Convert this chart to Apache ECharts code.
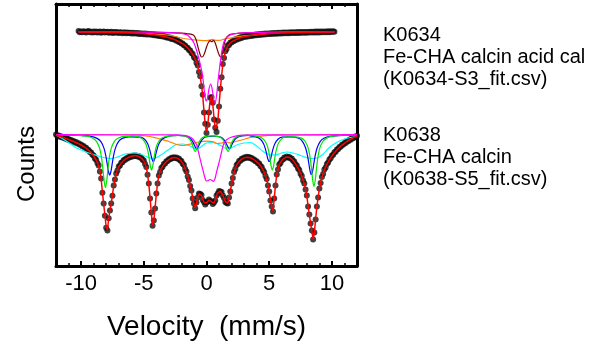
<!DOCTYPE html>
<html>
<head>
<meta charset="utf-8">
<script src="https://cdn.jsdelivr.net/npm/echarts@6.0.0/dist/echarts.min.js"></script>
<style>
  html, body { margin: 0; padding: 0; background: #fff; }
  #chart { width: 596px; height: 350px; }
</style>
</head>
<body>
<div id="chart"></div>
<script>
// ---------------- DATA ----------------
// Channel velocities: first channel + constant step (mm/s)
const velStep = 0.1;
const upperVelStart = -10.2;   // K0634 spectrum channels
const lowerVelStart = -12.0;   // K0638 spectrum channels

const xMajorTicks = [-10, -5, 0, 5, 10];
const xMinorTicks = [-11, -9, -8, -7, -6, -4, -3, -2, -1, 1, 2, 3, 4, 6, 7, 8, 9, 11];

const xTitle = 'Velocity  (mm/s)';
const yTitle = 'Counts';
const upperLegend = ['K0634', 'Fe-CHA calcin acid cal', '(K0634-S3_fit.csv)'];
const lowerLegend = ['K0638', 'Fe-CHA calcin', '(K0638-S5_fit.csv)'];

// K0634 measured counts (offset, arbitrary units)
const upperData = [
  234.9,233.8,
  234.6,233.7,234.8,234.3,233.6,234.5,234.9,233.8,234.2,233.5,
  234.4,233.7,234.6,233.4,234.1,234.5,233.3,234.0,234.4,233.5,
  233.9,234.3,233.2,233.8,234.2,233.1,233.9,233.3,234.0,233.6,
  232.9,233.8,233.5,232.8,233.6,233.4,232.7,233.5,232.9,233.3,
  232.6,233.3,232.5,233.1,232.4,233.0,232.1,232.8,232.0,232.6,
  231.7,232.5,231.6,232.3,231.4,231.9,231.2,231.8,230.8,231.4,
  230.4,231.1,230.0,230.6,229.7,230.2,229.2,229.7,228.6,229.0,
  227.9,228.5,227.1,227.6,226.4,226.9,225.3,225.6,224.1,224.0,
  222.5,222.6,220.8,220.6,218.6,218.2,216.1,215.6,212.9,211.9,
  208.7,207.5,203.2,200.6,194.0,189.8,179.8,171.2,153.5,142.2,
  133.0,141.2,153.6,168.2,169.1,163.3,146.5,138.2,134.1,145.3,
  159.6,177.3,188.8,202.0,208.1,214.8,216.9,220.7,221.1,223.6,
  223.5,225.3,225.1,226.7,226.3,227.8,227.3,228.7,228.1,229.4,
  228.9,229.9,229.3,230.4,229.7,230.7,230.1,231.1,230.5,231.4,
  230.8,231.7,231.0,232.0,231.3,232.2,231.5,232.4,231.8,232.6,
  231.9,232.8,232.1,232.9,232.2,233.1,232.3,233.2,232.5,233.3,
  232.6,233.4,232.7,233.5,232.8,233.6,232.8,233.7,232.9,233.7,
  233.0,233.8,233.0,233.9,233.1,233.9,233.2,234.0,233.2,234.1,
  233.3,234.1,233.4,234.2,233.4,234.3,233.5,234.4,233.6,234.4,
  233.6,234.5,233.7,234.6,233.7,234.6,233.8,234.7,233.8,234.8,
  233.9,234.8,234.2
];

// K0634 total fit
const upperFit = [
  234.2,234.2,
  234.2,234.2,234.1,234.1,234.1,234.1,234.0,234.0,234.0,234.0,
  234.0,234.0,233.9,233.9,233.9,233.9,233.8,233.8,233.8,233.8,
  233.7,233.7,233.7,233.6,233.6,233.6,233.5,233.5,233.5,233.4,
  233.4,233.4,233.3,233.3,233.3,233.2,233.2,233.1,233.1,233.0,
  233.0,232.9,232.9,232.8,232.8,232.7,232.6,232.5,232.4,232.3,
  232.2,232.1,232.0,231.9,231.8,231.6,231.5,231.3,231.2,231.0,
  230.8,230.6,230.4,230.2,230.0,229.8,229.5,229.2,228.9,228.6,
  228.3,227.9,227.5,227.1,226.6,226.1,225.6,225.0,224.4,223.7,
  223.0,222.2,221.3,220.3,219.2,218.0,216.8,215.3,213.6,211.7,
  209.5,207.0,204.0,200.0,195.0,189.0,181.0,170.0,155.0,141.0,
  134.0,140.0,155.0,167.0,170.0,162.0,148.0,137.0,135.0,144.0,
  161.0,176.0,190.0,201.0,209.0,214.0,217.5,220.0,221.7,223.0,
  224.0,224.8,225.6,226.2,226.8,227.3,227.8,228.2,228.6,229.0,
  229.3,229.5,229.7,229.9,230.1,230.3,230.5,230.7,230.9,231.0,
  231.2,231.3,231.4,231.6,231.7,231.8,231.9,232.0,232.1,232.2,
  232.3,232.4,232.5,232.5,232.6,232.7,232.7,232.8,232.9,232.9,
  233.0,233.0,233.1,233.1,233.2,233.2,233.2,233.3,233.3,233.3,
  233.4,233.4,233.4,233.5,233.5,233.5,233.6,233.6,233.6,233.7,
  233.7,233.7,233.8,233.8,233.8,233.9,233.9,233.9,234.0,234.0,
  234.0,234.0,234.1,234.1,234.1,234.1,234.1,234.2,234.2,234.2,
  234.2,234.2,234.2
];

// K0634 sub-spectra [velocity, counts]
const upperOrange = [[-10.2,234.2],[-8,234],[-6,233.5],[-5,232.8],[-4,231.8],[-3.2,231],[-2.5,229.5],[-2,228],[-1.5,227],[-1,226.2],[-0.5,225.6],[0,225.3],[0.25,225.8],[0.45,226.7],[0.65,225.8],[1,225.6],[1.5,227.2],[2,228.2],[2.5,229.3],[3,230.2],[4,231.2],[5,233],[6,233.6],[8,234],[10.2,234.2]];
const upperMaroon = [[-10.2,234.2],[-5,233.8],[-3,233.4],[-2,232.8],[-1.5,232.2],[-1.05,231],[-0.85,227],[-0.7,220],[-0.55,213],[-0.4,209],[-0.28,209.5],[-0.15,213],[0,219],[0.15,223.5],[0.3,225.3],[0.42,224.3],[0.54,225.6],[0.68,223.5],[0.82,218],[0.95,213],[1.05,210],[1.15,209],[1.28,213],[1.4,221],[1.55,227.5],[1.75,230.5],[2,231.8],[2.5,232.6],[3,233.1],[5,233.7],[10.2,234.2]];
const upperMagenta = [[-10.2,234.2],[-6,234],[-4,233.8],[-3,233.4],[-2.2,232.8],[-1.8,232],[-1.5,230.8],[-1.2,227],[-1.0,223],[-0.8,216],[-0.6,207],[-0.45,199],[-0.33,192],[-0.2,178],[-0.1,168],[-0.02,165],[0.08,168],[0.2,177],[0.33,182],[0.45,177],[0.57,167],[0.68,163],[0.8,170],[0.92,185],[1.05,199],[1.2,213],[1.35,222.5],[1.5,227],[1.75,230],[2.1,231.8],[2.6,232.8],[3.5,233.5],[5,233.9],[10.2,234.2]];

// K0638 measured counts (offset, arbitrary units)
const lowerData = [
  131.6,130.2,130.5,129.3,129.8,128.6,128.9,127.6,128.1,126.6,
  126.9,125.6,125.9,124.6,124.9,123.6,123.9,122.6,122.7,121.2,
  121.4,119.8,119.9,118.2,118.2,116.3,116.1,114.0,113.6,111.2,
  110.4,107.5,106.3,103.0,100.4,94.5,87.6,73.2,62.5,50.3,
  38.2,35.6,47.7,55.4,62.6,70.2,80.6,86.4,92.5,95.5,
  99.4,100.6,103.2,103.8,105.9,106.1,107.7,107.6,109.1,108.8,
  110.1,109.6,110.6,109.9,110.6,109.6,109.9,108.4,108.4,106.3,
  105.4,102.0,98.9,91.3,82.6,67.4,53.6,40.3,45.5,57.4,
  72.6,82.4,90.4,94.0,97.9,99.3,101.9,102.6,104.7,105.1,
  106.8,106.8,108.2,107.8,108.8,108.0,108.6,107.3,107.4,105.6,
  104.9,102.3,100.9,97.0,94.4,89.5,85.9,80.0,75.4,67.4,
  62.4,57.8,63.4,68.5,72.4,72.0,70.9,66.0,63.9,61.5,
  63.4,64.5,66.4,65.0,64.4,62.0,63.4,65.5,70.4,72.5,
  75.1,74.5,74.1,70.5,67.9,64.0,62.9,62.5,68.4,74.5,
  82.4,88.0,93.9,97.0,100.9,102.2,104.9,105.3,107.2,107.1,
  108.6,108.1,109.2,108.3,109.0,107.7,108.1,106.5,106.6,104.8,
  104.7,102.7,102.4,100.0,99.1,96.0,94.1,90.0,86.9,80.4,
  74.4,65.4,59.4,54.4,67.4,80.4,91.4,96.5,101.4,103.0,
  105.9,106.5,108.4,108.2,109.4,108.5,109.1,107.5,107.4,105.2,
  104.4,101.7,100.6,97.5,95.9,92.2,89.9,85.5,82.4,76.5,
  70.4,59.4,51.4,42.4,35.4,26.5,33.4,46.5,59.4,68.5,
  77.4,83.0,88.9,92.0,96.4,98.5,102.1,103.5,106.6,107.7,
  110.4,111.2,113.7,114.3,116.6,117.0,119.1,119.3,121.2,121.3,
  123.1,123.1,124.9,124.8,126.4,126.3,127.9,127.7,129.2,128.9,
  130.3
];

// K0638 total fit
const lowerFit = [
  131,130.5,130,129.7,129.3,129,128.5,128,127.5,127,
  126.5,126,125.5,125,124.5,124,123.5,123,122.3,121.7,
  121,120.3,119.5,118.7,117.8,116.8,115.7,114.5,113.2,111.7,
  110,108,106,103.5,100,95.5,87,74,62,51,
  39,36,47,56,62,71,80,87,92,96,
  99,101,102.8,104.2,105.5,106.5,107.3,108,108.7,109.2,
  109.7,110,110.2,110.3,110.2,110,109.5,108.8,108,106.8,
  105,102.5,98.5,92,82,68,53,41,45,58,
  72,83,90,94.5,97.5,99.7,101.5,103,104.3,105.5,
  106.4,107.2,107.8,108.2,108.4,108.4,108.2,107.7,107,106,
  104.5,102.7,100.5,97.5,94,90,85.5,80.5,75,68,
  62,58.5,63,69,72,72.5,70.5,66.5,63.5,62,
  63,65,66,65.5,64,62.5,63,66,70,73,
  74.7,75,73.7,71,67.5,64.5,62.5,63,68,75,
  82,88.5,93.5,97.5,100.5,102.7,104.5,105.8,106.8,107.6,
  108.2,108.6,108.8,108.8,108.6,108.2,107.7,107,106.2,105.3,
  104.3,103.2,102,100.5,98.7,96.5,93.7,90.5,86.5,81,
  74,66,59,55,67,81,91,97,101,103.5,
  105.5,107,108,108.7,109,109,108.7,108,107,105.7,
  104,102.2,100.2,98,95.5,92.7,89.5,86,82,77,
  70,60,51,43,35,27,33,47,59,69,
  77,83.5,88.5,92.5,96,99,101.7,104,106.2,108.2,
  110,111.7,113.3,114.8,116.2,117.5,118.7,119.8,120.8,121.8,
  122.7,123.6,124.5,125.3,126,126.8,127.5,128.2,128.8,129.4,
  130
];

// K0638 sub-spectra [velocity, counts]
const lowerGreen = [[-12,131.3],[-11,131],[-10.2,130.5],[-9.56,129.8],[-9.06,127.8],[-8.76,124.4],[-8.51,117.1],[-8.36,107.3],[-8.26,96.8],[-8.16,84.7],[-8.06,78.5],[-7.96,84.7],[-7.86,96.8],[-7.76,107.3],[-7.61,117.1],[-7.36,124.4],[-7.06,127.8],[-6.56,129.6],[-6.2,129.6],[-5.88,130],[-5.38,129],[-5.08,126.7],[-4.83,121.8],[-4.68,115.3],[-4.58,108.3],[-4.48,100.2],[-4.38,96],[-4.28,100.2],[-4.18,108.3],[-4.08,115.3],[-3.93,121.8],[-3.68,126.7],[-3.38,129],[-2.88,130.2],[-2.2,130.6],[-1.9,130.3],[-1.6,129.2],[-1.35,126.9],[-1.2,123.7],[-1.1,120.4],[-1.0,116.5],[-0.9,114.5],[-0.8,116.5],[-0.7,120.4],[-0.6,123.7],[-0.45,126.9],[-0.2,129.2],[0.41,130],[1.02,129.2],[1.27,126.9],[1.42,123.7],[1.52,120.4],[1.62,116.5],[1.72,114.5],[1.82,116.5],[1.92,120.4],[2.02,123.7],[2.17,126.9],[2.42,129.2],[2.72,130.3],[3.22,130.8],[3.75,130.2],[4.25,129],[4.55,126.7],[4.8,121.8],[4.95,115.3],[5.05,108.3],[5.15,100.2],[5.25,96],[5.35,100.2],[5.45,108.3],[5.55,115.3],[5.7,121.8],[5.95,126.7],[6.25,129],[6.9,129.2],[7.57,127.9],[7.87,124.5],[8.12,117.4],[8.27,107.7],[8.37,97.5],[8.47,85.6],[8.57,79.5],[8.67,85.6],[8.77,97.5],[8.87,107.7],[9.02,117.4],[9.27,124.5],[9.57,127.9],[10.07,129.8],[11,130.8],[12,131.2]];
const lowerBlue = [[-12,131.3],[-11,131],[-10,130.5],[-9.22,129.7],[-8.72,127.6],[-8.42,124.3],[-8.17,117.6],[-8.02,109.6],[-7.92,102.1],[-7.82,94.5],[-7.72,91],[-7.62,94.5],[-7.52,102.1],[-7.42,109.6],[-7.27,117.6],[-7.02,124.3],[-6.72,127.6],[-6.22,129.2],[-5.98,129.2],[-5.24,128.9],[-4.94,126.7],[-4.69,122.2],[-4.54,116.9],[-4.44,111.9],[-4.34,106.8],[-4.24,104.5],[-4.14,106.8],[-4.04,111.9],[-3.94,116.9],[-3.79,122.2],[-3.54,126.7],[-3.24,128.9],[-2.74,130.3],[-2.28,130.6],[-1.78,130.2],[-1.48,129],[-1.23,126.7],[-1.08,123.9],[-0.98,121.3],[-0.88,118.7],[-0.78,117.5],[-0.68,118.7],[-0.58,121.3],[-0.48,123.9],[-0.33,126.7],[-0.08,129],[0.52,129.8],[1.12,129],[1.37,126.7],[1.52,123.9],[1.62,121.3],[1.72,118.7],[1.82,117.5],[1.92,118.7],[2.02,121.3],[2.12,123.9],[2.27,126.7],[2.52,129],[2.82,130.2],[3.32,130.6],[3.5,130],[4.0,128.9],[4.3,126.7],[4.55,122.2],[4.7,116.9],[4.8,111.9],[4.9,106.8],[5.0,104.5],[5.1,106.8],[5.2,111.9],[5.3,116.9],[5.45,122.2],[5.7,126.7],[6.0,128.9],[6.68,129.1],[7.36,127.7],[7.66,124.4],[7.91,117.8],[8.06,109.9],[8.16,102.5],[8.26,94.9],[8.36,91.5],[8.46,94.9],[8.56,102.5],[8.66,109.9],[8.81,117.8],[9.06,124.4],[9.36,127.7],[9.86,129.7],[11,130.8],[12,131.2]];
const lowerCyan = [[-12,131],[-11.5,127.5],[-11,123.5],[-10.5,119],[-10,116],[-9.5,113.5],[-9,111.5],[-8.5,109.5],[-8,108],[-7.6,107.5],[-7.2,108.5],[-6.8,110.5],[-6.3,112.5],[-5.8,113],[-5.3,112],[-4.8,109.5],[-4.3,107.5],[-3.9,109],[-3.4,113],[-2.9,117.5],[-2.4,121.5],[-1.9,122],[-1.4,120.5],[-1.0,118],[-0.75,117],[-0.45,119],[-0.1,122.5],[0.35,123.5],[0.8,122.5],[1.2,120],[1.55,117.5],[1.8,117],[2.1,119],[2.5,121.5],[3.0,123],[3.5,123.5],[4.0,120],[4.5,114.5],[5.0,111.5],[5.4,111],[5.9,112.5],[6.4,114],[6.9,113],[7.5,110.5],[8.1,108],[8.5,107.5],[8.9,108.5],[9.3,112],[9.8,118.5],[10.3,123],[10.8,126],[11.3,128],[12,129.5]];
const lowerOrange = [[-12,131.2],[-7,131],[-5.5,130.8],[-4.5,129.5],[-4,128],[-3.5,126.3],[-3,124.5],[-2.6,122.5],[-2.2,121],[-1.9,120.5],[-1.5,121.3],[-1.1,122.5],[-0.6,124],[0,124.8],[0.5,124.3],[0.85,122.5],[1.2,123],[1.6,124],[1.9,123],[2.3,124.5],[2.8,126],[3.3,127.8],[3.8,129],[4.5,130.2],[5.5,130.8],[7,131],[12,131.2]];
const lowerMagenta = [[-12,131.3],[-2.5,131.2],[-1.8,130.6],[-1.4,129.5],[-1.1,127],[-0.9,123.5],[-0.78,121],[-0.65,114.5],[-0.52,107.7],[-0.38,100.5],[-0.25,94.3],[-0.12,88],[-0.02,85],[0.1,85.3],[0.28,86.5],[0.45,85.5],[0.56,84.5],[0.68,87.5],[0.81,94.3],[0.95,101],[1.08,107.7],[1.21,114.5],[1.34,121],[1.47,124.5],[1.6,126.3],[1.9,128.5],[2.4,130.2],[3,130.8],[4,131.1],[12,131.3]];

// ---------------- CHART ----------------
function channels(start, ys) {
  return ys.map((y, i) => [Math.round((start + i * velStep) * 100) / 100, y]);
}

const FONT = '"Liberation Sans", Arial, sans-serif';
const chart = echarts.init(document.getElementById('chart'), null, { renderer: 'canvas' });

function compLine(name, data, color) {
  return {
    name, type: 'line', data, showSymbol: false, symbol: 'none',
    smooth: 0.3, lineStyle: { color, width: 1.2 }, z: 3, silent: true
  };
}

const frameLine = { show: true, onZero: false, lineStyle: { color: '#000', width: 3 } };

chart.setOption({
  animation: false,
  backgroundColor: '#fff',
  grid: { left: 56, right: 239, top: 4, bottom: 84, containLabel: false },
  xAxis: [
    {
      type: 'value', position: 'bottom', min: -12, max: 12,
      axisLine: frameLine,
      axisTick: { show: true, inside: true, length: 5, customValues: xMajorTicks, lineStyle: { color: '#000', width: 2 } },
      axisLabel: { show: true, customValues: xMajorTicks, color: '#000', fontSize: 22, fontFamily: FONT, margin: 7,
                   formatter: v => String(v) },
      splitLine: { show: false },
      name: xTitle, nameLocation: 'middle', nameGap: 47,
      nameTextStyle: { color: '#000', fontSize: 28, fontFamily: FONT }
    },
    {
      type: 'value', position: 'bottom', min: -12, max: 12, gridIndex: 0,
      axisLine: { show: false, onZero: false },
      axisTick: { show: true, inside: true, length: 3, customValues: xMinorTicks, lineStyle: { color: '#000', width: 1.5 } },
      axisLabel: { show: false }, splitLine: { show: false }
    },
    {
      type: 'value', position: 'top', min: -12, max: 12,
      axisLine: frameLine,
      axisTick: { show: true, inside: true, length: 5, customValues: xMajorTicks, lineStyle: { color: '#000', width: 2 } },
      axisLabel: { show: false }, splitLine: { show: false }
    },
    {
      type: 'value', position: 'top', min: -12, max: 12,
      axisLine: { show: false, onZero: false },
      axisTick: { show: true, inside: true, length: 3, customValues: xMinorTicks, lineStyle: { color: '#000', width: 1.5 } },
      axisLabel: { show: false }, splitLine: { show: false }
    }
  ],
  yAxis: [
    {
      type: 'value', position: 'left', min: 0, max: 262,
      axisLine: frameLine, axisTick: { show: false }, axisLabel: { show: false }, splitLine: { show: false }
    },
    {
      type: 'value', position: 'right', min: 0, max: 262,
      axisLine: frameLine, axisTick: { show: false }, axisLabel: { show: false }, splitLine: { show: false }
    }
  ],
  graphic: [
    { type: 'text', x: 27, y: 164, rotation: Math.PI / 2,
      style: { text: yTitle, font: '24px ' + FONT, fill: '#000', align: 'center', verticalAlign: 'middle' } },
    { type: 'text', left: 383, top: 25, style: { text: upperLegend.join('\n'), font: '20px ' + FONT, fill: '#000', lineHeight: 21.7 } },
    { type: 'text', left: 383, top: 125, style: { text: lowerLegend.join('\n'), font: '20px ' + FONT, fill: '#000', lineHeight: 21.7 } }
  ],
  series: [
    { name: 'K0634 data', type: 'scatter', data: channels(upperVelStart, upperData), symbol: 'circle', symbolSize: 6,
      itemStyle: { color: '#111' }, z: 2, silent: true },
    { name: 'K0638 data', type: 'scatter', data: channels(lowerVelStart, lowerData), symbol: 'circle', symbolSize: 6,
      itemStyle: { color: '#111' }, z: 2, silent: true },
    compLine('K0634 orange', upperOrange, '#ff8000'),
    compLine('K0634 maroon', upperMaroon, '#800000'),
    compLine('K0634 magenta', upperMagenta, '#ff00ff'),
    compLine('K0638 cyan', lowerCyan, '#00ffff'),
    compLine('K0638 orange', lowerOrange, '#ff8000'),
    compLine('K0638 blue', lowerBlue, '#0000ff'),
    compLine('K0638 green', lowerGreen, '#00e600'),
    compLine('K0638 magenta', lowerMagenta, '#ff00ff'),
    { name: 'K0634 fit', type: 'line', data: channels(upperVelStart, upperFit), showSymbol: false, symbol: 'none',
      lineStyle: { color: '#ff0000', width: 1.5 }, z: 4, silent: true },
    { name: 'K0638 fit', type: 'line', data: channels(lowerVelStart, lowerFit), showSymbol: false, symbol: 'none',
      lineStyle: { color: '#ff0000', width: 1.5 }, z: 4, silent: true }
  ]
});
</script>
</body>
</html>
